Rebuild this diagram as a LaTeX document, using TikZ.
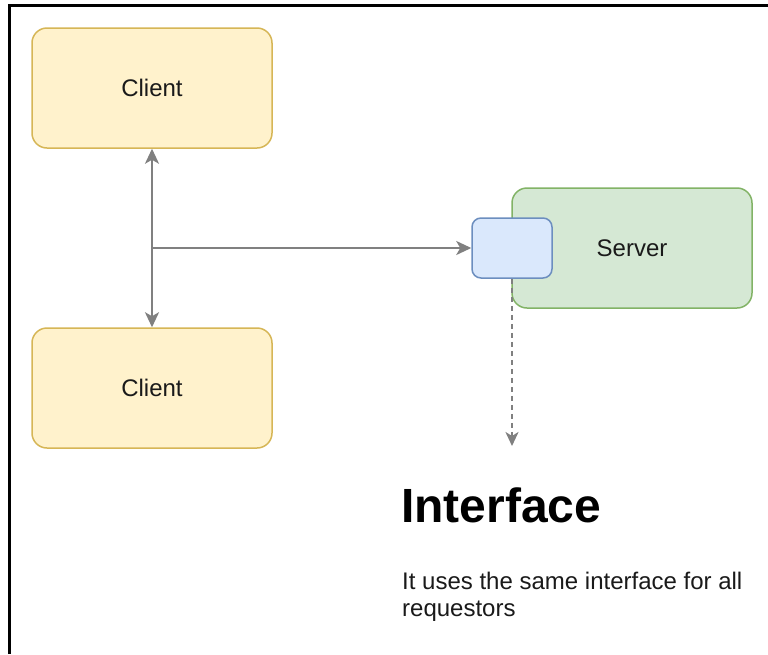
\documentclass[tikz,border=0pt]{standalone}
\usepackage{fontspec}
\setmainfont{Liberation Sans}
\usetikzlibrary{arrows.meta}
\definecolor{yfill}{HTML}{FFF2CC}
\definecolor{ydraw}{HTML}{D6B656}
\definecolor{gfill}{HTML}{D5E8D4}
\definecolor{gdraw}{HTML}{82B366}
\definecolor{bfill}{HTML}{DAE8FC}
\definecolor{bdraw}{HTML}{6C8EBF}
\definecolor{arrowgray}{HTML}{808080}
\definecolor{txt}{HTML}{1A1A1A}
\begin{document}
\begin{tikzpicture}[x=1pt,y=-1pt,
  >={Stealth[length=15pt,width=14pt,inset=4pt]},
  box/.style={rounded corners=15pt, line width=1.5pt, minimum width=240pt, minimum height=120pt, inner sep=0pt, font=\fontsize{24}{28}\selectfont, text=txt},
  clientbox/.style={box, fill=yfill, draw=ydraw},
  serverbox/.style={box, fill=gfill, draw=gdraw},
  ifacebox/.style={rounded corners=9pt, line width=1.5pt, fill=bfill, draw=bdraw, minimum width=80pt, minimum height=60pt, inner sep=0pt},
  conn/.style={draw=arrowgray, line width=2.2pt},
  dashconn/.style={conn, line width=2pt, dash pattern=on 5pt off 4pt}
]
\useasboundingbox (0,0) rectangle (768,654);
\fill[white] (0,0) rectangle (768,654);
% frame edges
\draw[line width=3pt, black] (9.5,654) -- (9.5,5.5) -- (768,5.5);

\node[clientbox] (c1) at (152,88) {Client};
\node[clientbox] (c2) at (152,388) {Client};
\node[serverbox] (srv) at (632,248) {Server};
\node[ifacebox] (if) at (512,248) {};

\coordinate (j) at (152,248);
\coordinate (d) at (512,446);

\draw[conn, <->] (c1.south) -- (c2.north);
\draw[conn, ->] (j) -- (if.west);
\draw[dashconn, -{Stealth[length=14pt,width=13pt,inset=4pt]}] (if.south) -- (d);

\node[anchor=base west, inner sep=0pt, font=\fontsize{48}{56}\selectfont\bfseries, text=black] (h) at (401,522) {Interface};
\node[anchor=base west, inner sep=0pt, font=\fontsize{24}{27}\selectfont, text=txt] (b1) at (402,589) {It uses the same interface for all};
\node[anchor=base west, inner sep=0pt, font=\fontsize{24}{27}\selectfont, text=txt] (b2) at (402,616) {requestors};
\end{tikzpicture}
\end{document}
